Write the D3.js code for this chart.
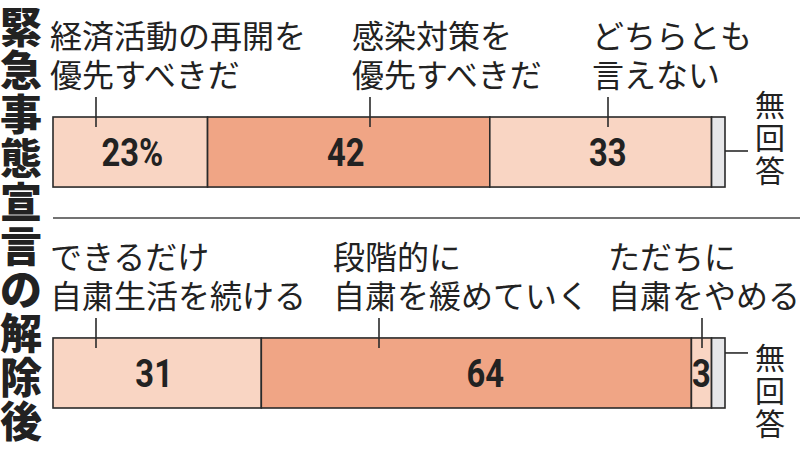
<!DOCTYPE html>
<html>
<head>
<meta charset="utf-8">
<script src="https://cdn.jsdelivr.net/npm/d3@7"></script>
<style>
  html, body { margin: 0; padding: 0; background: #fff; }
  text { fill: #222; }
</style>
</head>
<body>
<div id="chart"></div>
<script>
// Survey: after lifting the state of emergency (two stacked 100% bars)

const width = 800, height = 450;

// ---- data ----
const title = "緊急事態宣言の解除後";
const rows = ["q1", "q2"];
const q1Labels = [["経済活動の再開を", "優先すべきだ"], ["感染対策を", "優先すべきだ"], ["どちらとも", "言えない"], ["無回答"]];
const q1Values = [23, 42, 33, 2];
const q2Labels = [["できるだけ", "自粛生活を続ける"], ["段階的に", "自粛を緩めていく"], ["ただちに", "自粛をやめる"], ["無回答"]];
const q2Values = [31, 64, 3, 2];

// ---- layout for annotations (pixels) ----
const labelX = [[50, 352, 592], [50, 333, 608]];
const leaderX = [[96, 370, 608], [96, 379, 702]];
const valueDx = [[2, -3, 7], [-3, 9, 0]];
const noAnswerLeaderY = [34, 15];   // offset from bar top
const noAnswerTextY = [-14, 18];     // offset of first char centre from bar top

const colors = ["#f9d5c3", "#f0a585", "#f9d5c3", "#e7e7e9"];
const jpFont = "'Noto Sans CJK JP', 'Noto Sans', sans-serif";
const numFont = "Roboto, 'DejaVu Sans', sans-serif";

const svg = d3.select("#chart")
    .append("svg")
    .attr("width", width)
    .attr("height", height);

const x = d3.scaleLinear()
    .domain([0, 100])
    .range([53, 725]);

const y = d3.scaleBand()
    .domain(rows)
    .range([117, 408])
    .paddingInner(0.683)
    .paddingOuter(0);

// Vertical title
const titleG = svg.append("g");
title.split("").forEach((ch, i) => {
    titleG.append("text")
        .attr("x", 21)
        .attr("y", 24 + i * 43.8)
        .attr("text-anchor", "middle")
        .attr("dominant-baseline", "central")
        .style("font-family", jpFont)
        .style("font-weight", 900)
        .style("font-size", "42px")
        .text(ch);
});

// separator
svg.append("line")
    .attr("x1", 53).attr("x2", 800)
    .attr("y1", 218).attr("y2", 218)
    .attr("stroke", "#444")
    .attr("stroke-width", 1.5);

const rowData = [
    { key: "q1", values: q1Values, labels: q1Labels },
    { key: "q2", values: q2Values, labels: q2Labels }
];

rowData.forEach((row, r) => {
    const top = y(row.key);
    const bw = y.bandwidth();

    // stack
    let acc = 0;
    const segs = row.values.map((v, i) => {
        const s = { i, v, x0: acc, x1: acc + v, labels: row.labels[i] };
        acc += v;
        return s;
    });

    const g = svg.append("g");

    g.selectAll("rect")
        .data(segs)
        .enter()
        .append("rect")
        .attr("x", d => x(d.x0))
        .attr("y", top)
        .attr("width", d => x(d.x1) - x(d.x0))
        .attr("height", bw)
        .attr("fill", d => colors[d.i])
        .attr("stroke", "#2a2a2a")
        .attr("stroke-width", 1.6);

    // value labels (condensed bold digits)
    g.selectAll("text.val")
        .data(segs.filter(d => d.i < 3))
        .enter()
        .append("text")
        .attr("class", "val")
        .attr("transform", d => {
            const cx = (x(d.x0) + x(d.x1)) / 2 + valueDx[r][d.i];
            return `translate(${cx},${top + bw / 2 + 14}) scale(0.84,1)`;
        })
        .attr("text-anchor", "middle")
        .style("font-family", numFont)
        .style("font-weight", "bold")
        .style("font-size", "39px")
        .text(d => (r === 0 && d.i === 0) ? d.v + "%" : d.v);

    // category labels + leaders
    segs.filter(d => d.i < 3).forEach(d => {
        const t = g.append("text")
            .attr("x", labelX[r][d.i])
            .style("font-family", jpFont)
            .style("font-size", "32px");
        d.labels.forEach((line, li) => {
            t.append("tspan")
                .attr("x", labelX[r][d.i])
                .attr("y", top - 69 + li * 39)
                .text(line);
        });
        g.append("line")
            .attr("x1", leaderX[r][d.i]).attr("x2", leaderX[r][d.i])
            .attr("y1", top - 20).attr("y2", top + 10)
            .attr("stroke", "#2a2a2a")
            .attr("stroke-width", 1.6);
    });

    // 無回答
    const na = segs[3];
    g.append("line")
        .attr("x1", x(na.x1)).attr("x2", x(na.x1) + 23)
        .attr("y1", top + noAnswerLeaderY[r]).attr("y2", top + noAnswerLeaderY[r])
        .attr("stroke", "#2a2a2a")
        .attr("stroke-width", 1.6);
    na.labels[0].split("").forEach((ch, ci) => {
        g.append("text")
            .attr("x", 770)
            .attr("y", top + noAnswerTextY[r] + ci * 33)
            .attr("text-anchor", "middle")
            .attr("dominant-baseline", "central")
            .style("font-family", jpFont)
            .style("font-size", "30px")
            .text(ch);
    });
});
</script>
</body>
</html>
